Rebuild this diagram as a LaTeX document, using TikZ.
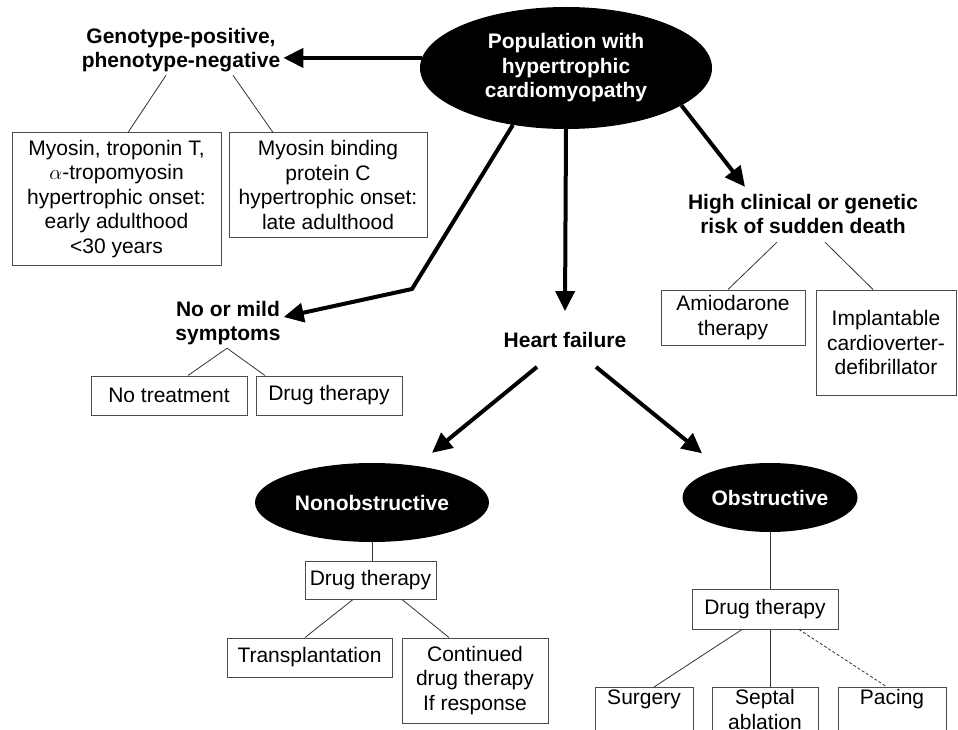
\documentclass[tikz,border=0pt]{standalone}
\usepackage{fontspec}
\setmainfont{Liberation Sans}
\usepackage{tikz}
\usetikzlibrary{arrows.meta,shapes.geometric}

\begin{document}
\begin{tikzpicture}[x=1pt, y=-1pt, >={Triangle[length=20pt,width=19pt]},
  txt/.style={font=\fontsize{21}{24.5}\selectfont, align=center},
  bubble/.style={ellipse, fill=black, text=white, inner sep=0pt,
    font=\fontsize{21}{24.5}\selectfont\bfseries, align=center},
  heading/.style={txt, font=\fontsize{21}{24.5}\selectfont\bfseries, inner sep=3pt},
  box/.style={txt, draw=black!70, line width=1pt, inner sep=2pt},
  bigarrow/.style={->, line width=4pt},
  link/.style={draw=black!80, line width=0.8pt}]
  \useasboundingbox (0,0) rectangle (958,730);
  \clip (0,0) rectangle (958,730);

  \node[bubble, minimum width=292pt, minimum height=122pt] (pop) at (566,68)
    {Population with\\hypertrophic\\cardiomyopathy};
  \node[heading] (geno) at (181,50) {Genotype-positive,\\phenotype-negative};
  \node[box, minimum width=209pt, minimum height=132pt] (myo) at (116.5,199)
    {Myosin, troponin T,\\$\alpha$-tropomyosin\\hypertrophic onset:\\early adulthood\\<30 years};
  \node[box, minimum width=198pt, minimum height=104pt] (mybpc) at (328,185)
    {Myosin binding\\protein C\\hypertrophic onset:\\late adulthood};
  \node[heading] (mild) at (228,323) {No or mild\\symptoms};
  \node[box, minimum width=156pt, minimum height=39pt] (notreat) at (169,395.5) {No treatment};
  \node[box, minimum width=146pt, minimum height=39pt] (drugA) at (329,395.5) {Drug therapy};
  \node[heading] (hf) at (565,340) {Heart failure};
  \node[heading] (hrisk) at (803,214) {High clinical or genetic\\risk of sudden death};
  \node[box, minimum width=144pt, minimum height=55pt] (amio) at (733,317.5) {Amiodarone\\therapy};
  \node[box, minimum width=140pt, minimum height=105pt] (icd) at (886,342.5)
    {Implantable\\cardioverter-\\defibrillator};
  \node[bubble, minimum width=234pt, minimum height=79pt] (nonob) at (372,502.5) {Nonobstructive};
  \node[bubble, minimum width=175pt, minimum height=69pt] (obst) at (770,497.5) {Obstructive};
  \node[box, minimum width=131pt, minimum height=38pt] (drugN) at (370.5,580) {Drug therapy};
  \node[box, minimum width=165pt, minimum height=39pt] (transpl) at (309.5,657.5) {Transplantation};
  \node[box, minimum width=146pt, minimum height=85pt] (cont) at (475,680.5)
    {Continued\\drug therapy\\If response};
  \node[box, minimum width=146pt, minimum height=40pt] (drugB) at (765,609) {Drug therapy};
  \node[box, anchor=north, minimum width=98pt] (surg) at (644,687) {Surgery\\\mbox{}};
  \node[box, anchor=north, minimum width=106pt] (septal) at (765,687) {Septal\\ablation};
  \node[box, anchor=north, minimum width=108pt] (pacing) at (892,687) {Pacing\\\mbox{}};
  \coordinate (bend) at (412,289);

  \draw[bigarrow] (pop.176) -- (pop.176 -| geno.east);
  \draw[bigarrow] (pop.227) -- (bend) -- ([yshift=6pt]mild.east);
  \draw[bigarrow] (pop.south) -- ([yshift=18pt]hf.north);
  \draw[bigarrow] (pop.342) -- ([xshift=-58pt,yshift=4pt]hrisk.north);
  \draw[bigarrow] ([xshift=-28pt,yshift=-16pt]hf.south) -- ([xshift=60pt,yshift=10pt]nonob.north);
  \draw[bigarrow] ([xshift=31pt,yshift=-16pt]hf.south) -- ([xshift=-68pt,yshift=9.5pt]obst.north);

  \draw[link] ([xshift=-15pt]geno.south) -- ([xshift=11.5pt]myo.north);
  \draw[link] ([xshift=52pt]geno.south) -- ([xshift=-55pt]mybpc.north);
  \draw[link] ([xshift=-1pt]mild.south) -- ([xshift=19pt]notreat.north);
  \draw[link] ([xshift=-1pt]mild.south) -- ([xshift=-64pt]drugA.north);
  \draw[link] ([xshift=-26pt,yshift=-5pt]hrisk.south) -- ([xshift=-5pt]amio.north);
  \draw[link] ([xshift=22pt,yshift=-5pt]hrisk.south) -- ([xshift=-13pt]icd.north);
  \draw[link] (nonob.south) -- (nonob.south |- drugN.north);
  \draw[link] ([xshift=-17.5pt]drugN.south) -- ([xshift=-4.5pt]transpl.north);
  \draw[link] ([xshift=31.5pt]drugN.south) -- ([xshift=-26pt]cont.north);
  \draw[link] (obst.south) -- (obst.south |- drugB.north);
  \draw[link] ([xshift=-23pt]drugB.south) -- ([xshift=10pt]surg.north);
  \draw[link] (obst.south |- drugB.south) -- (obst.south |- septal.north);
  \draw[link, dash pattern=on 3pt off 2pt] ([xshift=34pt]drugB.south) -- ([xshift=-5pt]pacing.north);
\end{tikzpicture}
\end{document}
